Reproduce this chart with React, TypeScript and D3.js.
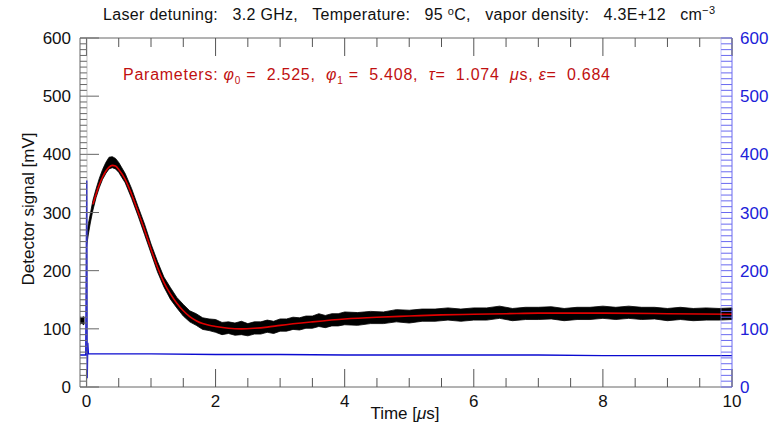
import React from "react";
import * as d3 from "d3";

// ---------- data ----------
const xTicks = [0, 2, 4, 6, 8, 10];
const yTicks = [0, 100, 200, 300, 400, 500, 600];

// pre-trigger black signal (t < 0)
const preTime = [-0.1, -0.07, -0.05, -0.03];
const preUpper = [121, 119, 122, 120];
const preLower = [107, 109, 106, 108];

// black detector trace: time [µs], centre [mV], noise above / below [mV]
const blackTime = [0, 0.03, 0.06, 0.1, 0.15, 0.2, 0.25, 0.3, 0.35, 0.4, 0.45, 0.5, 0.6, 0.7, 0.8, 0.9, 1.0, 1.1, 1.2, 1.3, 1.4, 1.5, 1.6, 1.7, 1.8, 1.9, 2.0, 2.1, 2.2, 2.3, 2.4, 2.5, 2.6, 2.7, 2.8, 2.9, 3.0, 3.1, 3.2, 3.3, 3.4, 3.5, 3.6, 3.7, 3.8, 3.9, 4.0, 4.2, 4.4, 4.6, 4.8, 5.0, 5.2, 5.4, 5.6, 5.8, 6.0, 6.2, 6.4, 6.6, 6.8, 7.0, 7.2, 7.4, 7.6, 7.8, 8.0, 8.2, 8.4, 8.6, 8.8, 9.0, 9.2, 9.4, 9.6, 9.8, 10];
const blackCenter = [250, 272, 290, 312, 333, 350, 364, 375, 383, 386, 384, 377, 359, 332, 302, 271, 238, 207, 181, 161, 145, 132, 122, 115, 110, 107, 104, 102, 101, 100, 100, 100, 101, 102, 103, 104, 106, 107, 108, 110, 111, 112, 113, 114, 115, 116, 117, 118, 119, 120, 121, 122, 123, 124, 124, 125, 125, 126, 127, 126, 126, 127, 126, 126, 126, 127, 127, 128, 128, 127, 126, 126, 126, 125, 125, 126, 126];
const noiseUp = [8, 9, 8, 9, 8, 9, 10, 11, 12, 10, 9, 9, 8, 9, 8, 9, 8, 9, 8, 10, 9, 10, 9, 11, 9, 10, 12, 9, 11, 10, 13, 9, 11, 10, 12, 9, 11, 10, 12, 9, 11, 10, 13, 9, 11, 10, 12, 10, 11, 9, 12, 10, 11, 10, 12, 9, 11, 10, 12, 9, 11, 10, 12, 9, 11, 10, 12, 9, 11, 10, 11, 9, 11, 10, 11, 9, 10];
const noiseDown = [10, 9, 8, 8, 7, 7, 7, 8, 8, 9, 9, 8, 8, 8, 8, 9, 8, 9, 9, 10, 9, 10, 10, 9, 11, 10, 10, 12, 9, 11, 10, 12, 10, 11, 9, 12, 10, 11, 9, 12, 10, 11, 9, 12, 10, 11, 10, 12, 10, 11, 9, 12, 10, 11, 9, 12, 10, 11, 9, 12, 10, 11, 9, 12, 10, 11, 9, 12, 10, 11, 9, 12, 10, 11, 10, 11, 10];

// red fit curve
const fitTime = [0.1, 0.15, 0.2, 0.25, 0.3, 0.35, 0.4, 0.45, 0.5, 0.6, 0.7, 0.8, 0.9, 1.0, 1.1, 1.2, 1.3, 1.4, 1.5, 1.6, 1.7, 1.8, 1.9, 2.0, 2.2, 2.4, 2.6, 2.8, 3.0, 3.5, 4.0, 4.5, 5.0, 5.5, 6.0, 6.5, 7.0, 8.0, 9.0, 10];
const fitValue = [314, 332, 348, 361, 371, 378, 381, 380, 374, 357, 331, 301, 270, 237, 206, 180, 160, 144, 131, 121, 114, 109, 106, 104, 101, 100, 101, 103, 106, 112, 117, 120, 122, 124, 125, 126, 127, 127, 126, 125];

// blue reference trace
const blueTime = [-0.1, -0.01, 0.005, 0.012, 0.02, 0.03, 0.5, 1, 2, 3, 4, 5, 6, 7, 8, 9, 10];
const blueValue = [55, 55, 355, 15, 76, 57, 57, 57, 56, 56, 55, 55, 55, 55, 54, 54, 54];

// ---------- layout ----------
const W = 779;
const H = 426;
const L = 80, R = 732, T = 38, B = 387;
const FONT = "'Liberation Sans', Arial, Helvetica, sans-serif";

export default function App() {
  const x = d3.scaleLinear().domain([-0.1, 10]).range([L, R]);
  const y = d3.scaleLinear().domain([0, 600]).range([B, T]);
  const yR = d3.scaleLinear().domain([0, 600]).range([B, T]);

  const mainIdx = blackTime.map((_, i) => i);
  const blackArea = d3
    .area<number>()
    .x((i) => x(blackTime[i]))
    .y0((i) => y(blackCenter[i] - noiseDown[i]))
    .y1((i) => y(blackCenter[i] + noiseUp[i]))
    .curve(d3.curveLinear)(mainIdx);
  const preIdx = preTime.map((_, i) => i);
  const preArea = d3
    .area<number>()
    .x((i) => x(preTime[i]))
    .y0((i) => y(preLower[i]))
    .y1((i) => y(preUpper[i]))(preIdx);

  const fitLine = d3
    .line<number>()
    .x((i) => x(fitTime[i]))
    .y((i) => y(fitValue[i]))
    .curve(d3.curveMonotoneX)(fitTime.map((_, i) => i));
  const blueLine = d3
    .line<number>()
    .x((i) => x(blueTime[i]))
    .y((i) => yR(blueValue[i]))(blueTime.map((_, i) => i));

  const xMinor = d3.range(0, 10.001, 0.5);
  const yMinor = d3.range(0, 600.001, 10);

  return (
    <svg
      width={W}
      height={H}
      style={{ position: "absolute", left: 0, top: 0, background: "#fff" }}
      fontFamily={FONT}
    >
      <rect x={0} y={0} width={W} height={H} fill="#fff" />
      {/* title */}
      <text x={103} y={20} fontSize={16} fill="#111" textLength={612} lengthAdjust="spacing" style={{ whiteSpace: "pre" }}>
        {"Laser detuning:   3.2 GHz,   Temperature:   95 "}
        <tspan dy={-5} fontSize={11}>o</tspan>
        <tspan dy={5}>{"C,   vapor density:   4.3E+12   cm"}</tspan>
        <tspan dy={-6} fontSize={11}>{"−3"}</tspan>
      </text>

      {/* data */}
      <path d={preArea || ""} fill="#000" />
      <path d={blackArea || ""} fill="#000" stroke="#000" strokeWidth={0.8} />
      <path d={fitLine || ""} fill="none" stroke="#e00000" strokeWidth={1.6} />
      <path d={blueLine || ""} fill="none" stroke="#0a0ad0" strokeWidth={1.4} />

      {/* frame */}
      <line x1={L} x2={R} y1={T} y2={T} stroke="#666" strokeWidth={1} />
      <line x1={L} x2={R} y1={B} y2={B} stroke="#666" strokeWidth={1} />
      <line x1={L} x2={L} y1={T} y2={B} stroke="#666" strokeWidth={1} />
      <line x1={R} x2={R} y1={T} y2={B} stroke="#6a6af0" strokeWidth={1} />

      {/* x ticks bottom & top */}
      {xMinor.map((t) => {
        const major = Math.abs(t / 2 - Math.round(t / 2)) < 1e-6;
        const len = major ? 18 : 9;
        return (
          <g key={"xt" + t}>
            <line x1={x(t)} x2={x(t)} y1={B} y2={B - len} stroke="#555" strokeWidth={1} />
            <line x1={x(t)} x2={x(t)} y1={T} y2={T + len} stroke="#555" strokeWidth={1} />
          </g>
        );
      })}
      {xTicks.map((t) => (
        <text key={"xl" + t} x={x(t)} y={407} textAnchor="middle" fontSize={17} fill="#111">
          {t}
        </text>
      ))}

      {/* left y ticks */}
      {yMinor.map((v) => {
        const major = v % 100 === 0;
        return (
          <line key={"yl" + v} x1={L} x2={L + (major ? 19 : 7)} y1={y(v)} y2={y(v)} stroke="#666" strokeWidth={1} />
        );
      })}
      <line x1={L + 7} x2={L + 7} y1={T} y2={B} stroke="#999" strokeWidth={0.6} />
      {yTicks.map((v) => (
        <text key={"ylt" + v} x={71} y={y(v) + 6} textAnchor="end" fontSize={17} fill="#111">
          {v}
        </text>
      ))}

      {/* right y ticks */}
      {yMinor.map((v) => (
        <line key={"yr" + v} x1={R} x2={R - 11} y1={yR(v)} y2={yR(v)} stroke="#6a6af0" strokeWidth={1} />
      ))}
      <line x1={R - 11} x2={R - 11} y1={T} y2={B} stroke="#9a9af5" strokeWidth={0.6} />
      {yTicks.map((v) => (
        <text key={"yrt" + v} x={740} y={yR(v) + 6} textAnchor="start" fontSize={17} fill="#2020d8">
          {v}
        </text>
      ))}

      {/* parameters */}
      <text x={123} y={80} fontSize={16} fill="#c01010" textLength={487} lengthAdjust="spacing" style={{ whiteSpace: "pre" }}>
        {"Parameters: "}
        <tspan fontStyle="italic">φ</tspan>
        <tspan dy={4} fontSize={10}>0</tspan>
        <tspan dy={-4}>{" =  2.525,  "}</tspan>
        <tspan fontStyle="italic">φ</tspan>
        <tspan dy={4} fontSize={10}>1</tspan>
        <tspan dy={-4}>{" =  5.408,  "}</tspan>
        <tspan fontStyle="italic">τ</tspan>
        <tspan>{"=  1.074  "}</tspan>
        <tspan fontStyle="italic">μ</tspan>
        <tspan>{"s, "}</tspan>
        <tspan fontStyle="italic">ε</tspan>
        <tspan>{"=  0.684"}</tspan>
      </text>

      {/* axis titles */}
      <text x={405} y={419} textAnchor="middle" fontSize={17} fill="#111">
        {"Time ["}
        <tspan fontStyle="italic">μ</tspan>
        {"s]"}
      </text>
      <text
        transform={`translate(34, 209) rotate(-90)`}
        textAnchor="middle"
        fontSize={17}
        fill="#111"
      >
        Detector signal [mV]
      </text>
    </svg>
  );
}
